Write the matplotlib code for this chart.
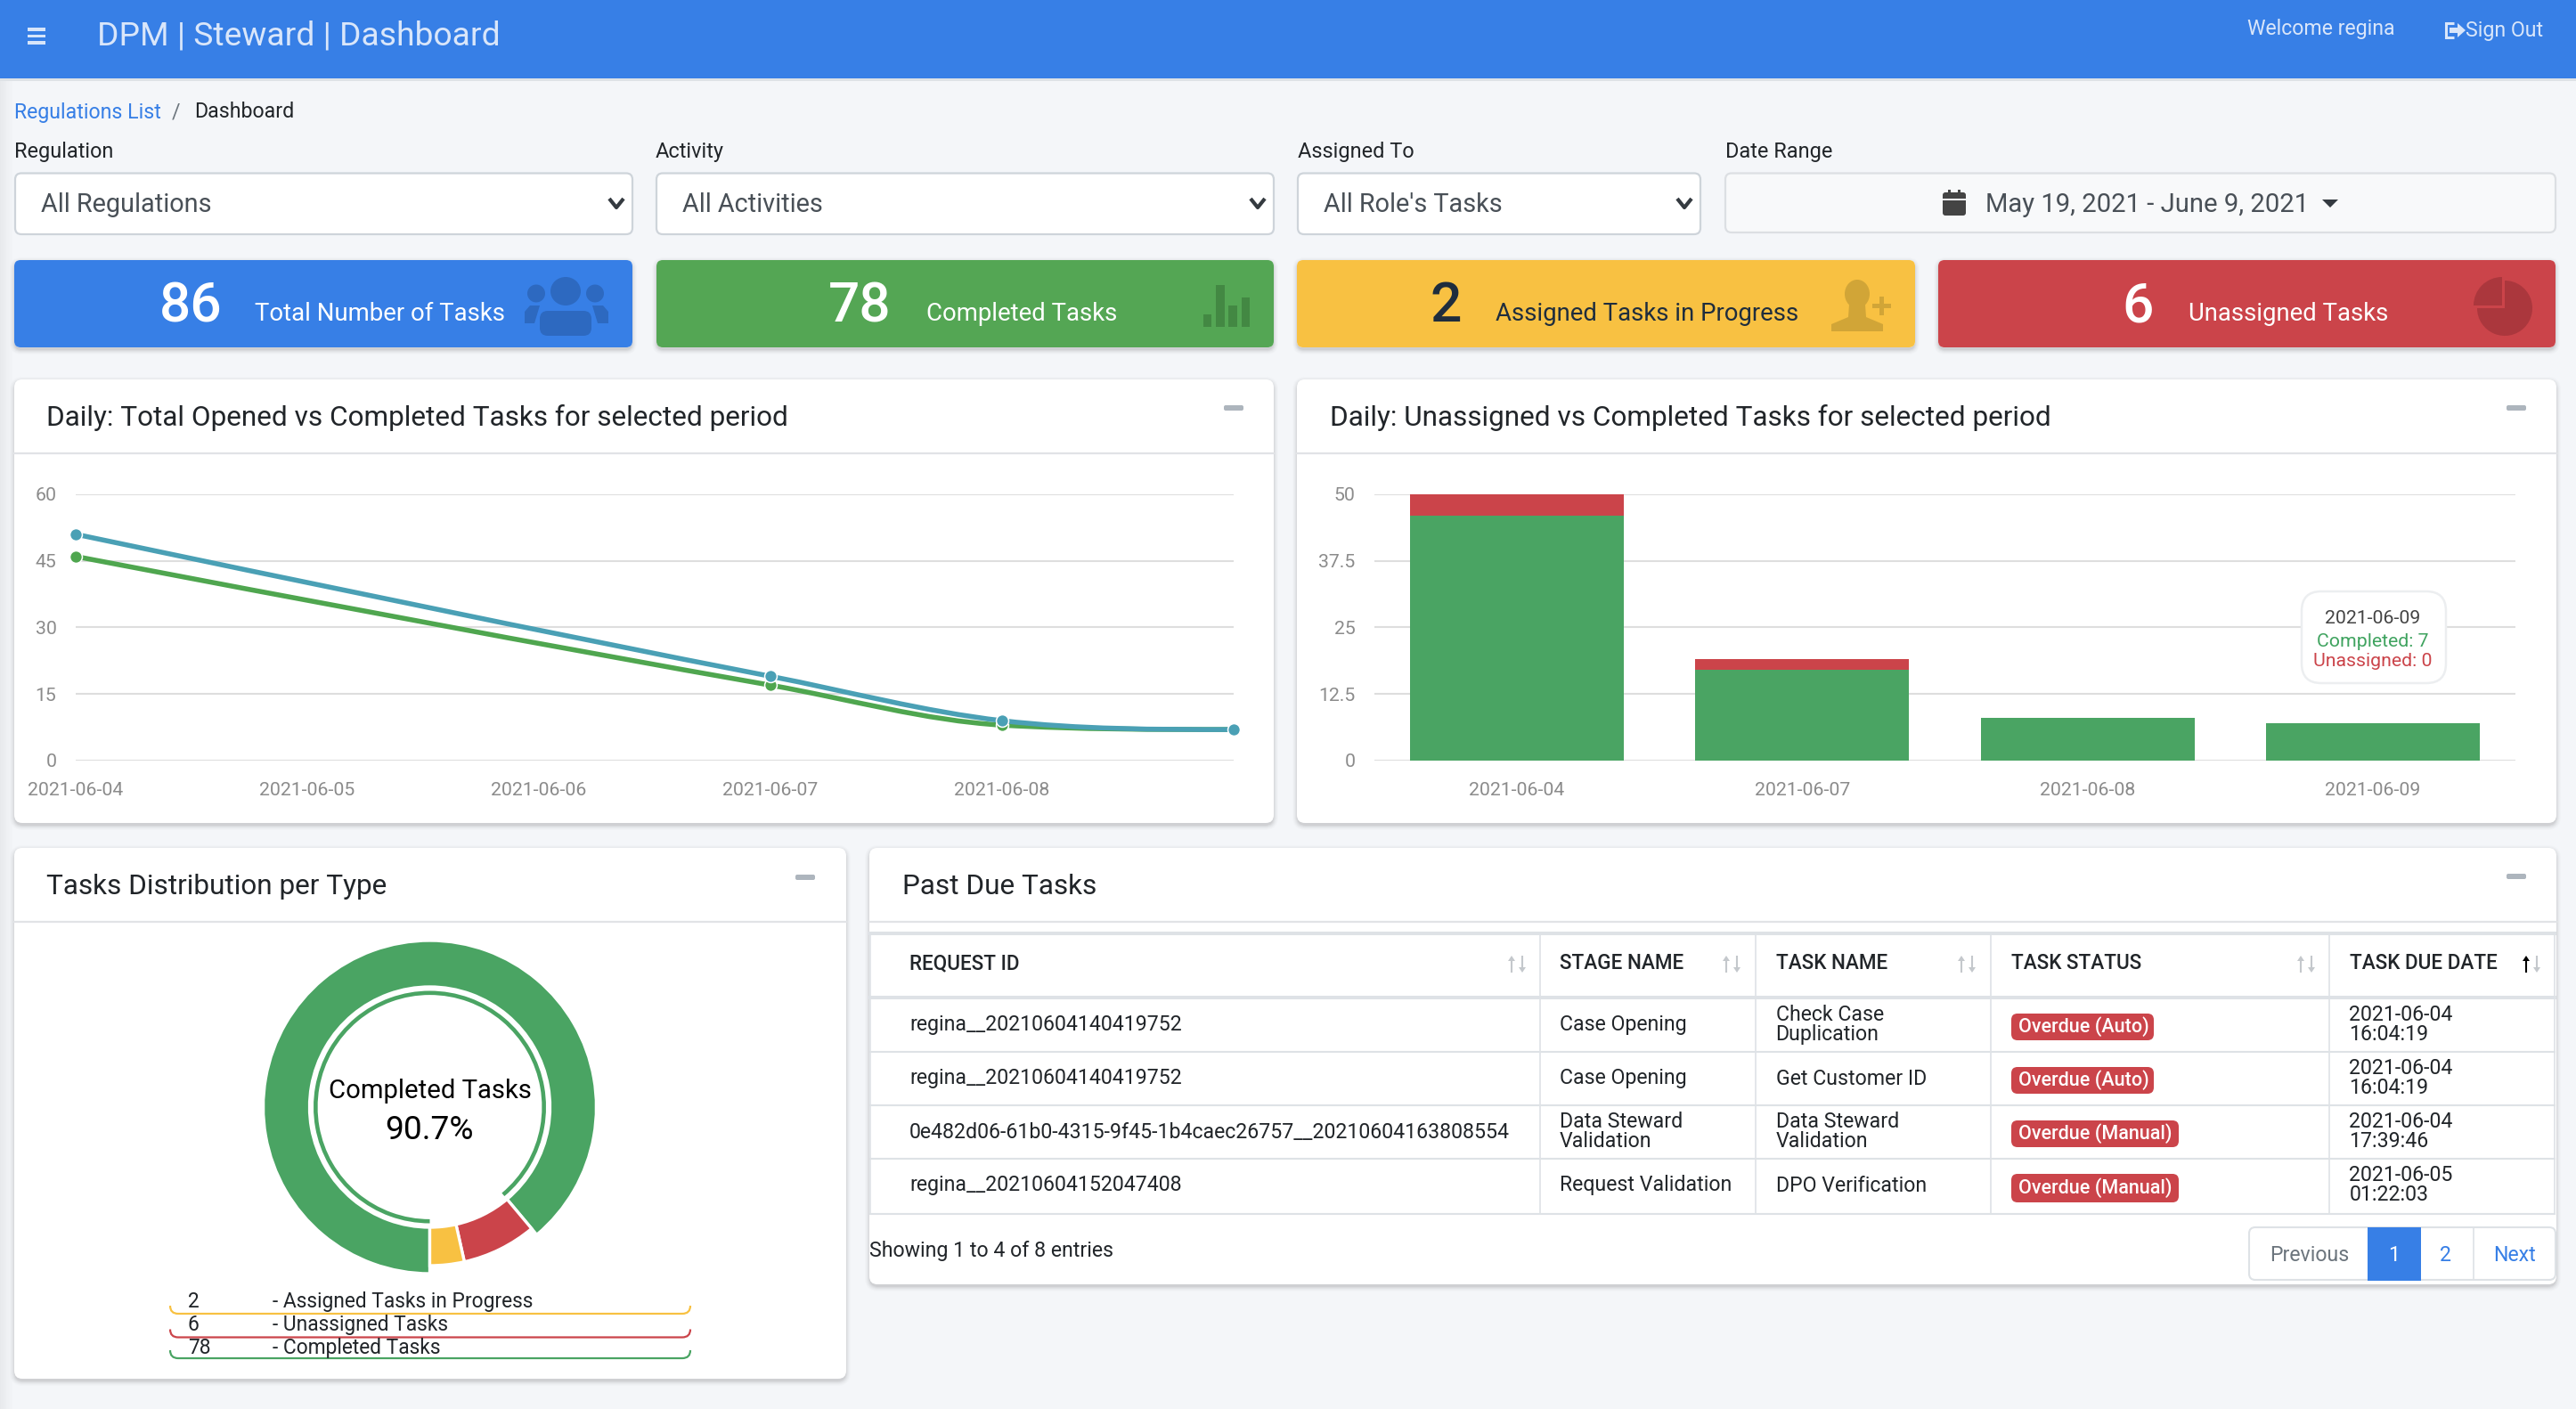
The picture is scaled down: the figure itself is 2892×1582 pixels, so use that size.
import numpy as np
import matplotlib
matplotlib.use("Agg")
import matplotlib.pyplot as plt
import matplotlib.dates as mdates
from matplotlib.patches import FancyBboxPatch, Rectangle, Circle, Ellipse, Wedge, Polygon, PathPatch
from matplotlib.path import Path
from matplotlib.textpath import TextPath
from matplotlib.font_manager import FontProperties
import datetime as dt

# ------------------------------------------------------------------ data
line_dates = ["2021-06-04", "2021-06-07", "2021-06-08", "2021-06-09"]
line_tick_dates = ["2021-06-04", "2021-06-05", "2021-06-06", "2021-06-07", "2021-06-08"]
line_yticks = [0, 15, 30, 45, 60]
opened_values = [51, 19, 9, 7]
completed_line_values = [46, 17, 8, 7]

bar_dates = ["2021-06-04", "2021-06-07", "2021-06-08", "2021-06-09"]
bar_yticks = [0, 12.5, 25, 37.5, 50]
bar_ytick_labels = ["0", "12.5", "25", "37.5", "50"]
completed_bar_values = [46, 17, 8, 7]
unassigned_bar_values = [4, 2, 0, 0]

stat_numbers = ["86", "78", "2", "6"]
stat_labels = ["Total Number of Tasks", "Completed Tasks", "Assigned Tasks in Progress", "Unassigned Tasks"]

type_counts = ["2", "6", "78"]
type_names = ["- Assigned Tasks in Progress", "- Unassigned Tasks", "- Completed Tasks"]
# ring shares (percent of the circle) as measured on the picture: completed, unassigned, assigned
ring_shares = [88.9, 7.6, 3.5]

table_headers = ["REQUEST ID", "STAGE NAME", "TASK NAME", "TASK STATUS", "TASK DUE DATE"]
request_ids = ["regina__20210604140419752", "regina__20210604140419752",
               "0e482d06-61b0-4315-9f45-1b4caec26757__20210604163808554", "regina__20210604152047408"]
stage_names = [["Case Opening"], ["Case Opening"], ["Data Steward", "Validation"], ["Request Validation"]]
task_names = [["Check Case", "Duplication"], ["Get Customer ID"], ["Data Steward", "Validation"], ["DPO Verification"]]
task_status = ["Overdue (Auto)", "Overdue (Auto)", "Overdue (Manual)", "Overdue (Manual)"]
due_dates = [["2021-06-04", "16:04:19"], ["2021-06-04", "16:04:19"], ["2021-06-04", "17:39:46"], ["2021-06-05", "01:22:03"]]

# ------------------------------------------------------------------ style
BG = "#f4f6f9"; BLUE = "#377fe6"; GREEN = "#54a654"; YELLOW = "#f8c142"; RED = "#cb444a"
BAR_GREEN = "#4aa463"; LINE_BLUE = "#4aa0b5"; LINE_GREEN = "#4fa64f"
INK = "#212529"; GRID = "#dedede"; TICK = "#8b8b8b"; BORDER = "#ced4da"; RULE = "#e1e3e6"
FONT = "Roboto"
W, H = 2892, 1582
TEXT_DY = 2

plt.rcParams["font.family"] = [FONT, "DejaVu Sans"]
fig = plt.figure(figsize=(W / 100, H / 100), dpi=100, facecolor=BG)


def fit(s, width, weight="normal"):
    fp = FontProperties(family=FONT, weight=weight)
    ext = TextPath((0, 0), s, size=100, prop=fp).get_extents()
    return 100 * width * 0.72 / ext.width


def px_axes(l, t, r, b, z=1):
    a = fig.add_axes([l / W, 1 - b / H, (r - l) / W, (b - t) / H], zorder=z)
    a.patch.set_alpha(0)
    return a


def canvas(z):
    a = fig.add_axes([0, 0, 1, 1], zorder=z)
    a.set_xlim(0, W); a.set_ylim(H, 0)
    a.set_xticks([]); a.set_yticks([])
    a.axis("off"); a.patch.set_alpha(0)
    return a


bg = canvas(0)
fg = canvas(5)


def rrect(a, x0, y0, x1, y1, r=8, fc="white", ec="none", lw=0, alpha=None, z=2):
    p = FancyBboxPatch((x0 + r, y0 + r), x1 - x0 - 2 * r, y1 - y0 - 2 * r,
                       boxstyle=f"round,pad={r},rounding_size={r}", fc=fc, ec=ec, lw=lw, alpha=alpha, zorder=z)
    a.add_patch(p)
    return p


def T(x, y, s, size, color=INK, ha="left", weight="normal", a=bg, z=6, family=None):
    return a.text(x, y + TEXT_DY, s, fontsize=size, color=color, ha=ha, va="center", weight=weight,
                  zorder=z, family=family or [FONT, "DejaVu Sans"])


def card(x0, y0, x1, y1, r=9):
    for i, al in zip(range(6, 0, -1), [.012, .016, .02, .026, .034, .045]):
        rrect(bg, x0 - i + 1, y0 - i + 3, x1 + i - 1, y1 + i + 2, r=r + i, fc="#000000", alpha=al, z=1)
    rrect(bg, x0, y0, x1, y1, r=r, fc="white", z=2)


def minus(x0, x1, y):
    rrect(bg, x0, y - 3, x1, y + 3, r=2, fc="#adb5bd", z=3)


def sort_arrow(x, up, color):
    """Small sort-direction icon."""
    tip, tail = (1073, 1092) if up else (1092, 1073)
    head = tip + (6 if up else -6)
    bg.plot([x, x], [head, tail], color=color, lw=1.5, zorder=6, solid_capstyle="butt")
    bg.add_patch(Polygon([(x - 4, head), (x + 4, head), (x, tip)], fc=color, lw=0, zorder=6))


# ------------------------------------------------------------------ sizes
S_HEAD = fit("DPM | Steward | Dashboard", 446)
S_WELCOME = fit("Welcome regina", 164)
S_CRUMB = fit("Regulations List", 162)
S_LABEL = fit("Regulation", 108)
S_SELECT = fit("All Regulations", 190)
S_DATE = fit("May 19, 2021 - June 9, 2021", 354)
S_NUM = fit("86", 65, "medium")
S_STAT = fit("Total Number of Tasks", 278)
S_TITLE = fit("Daily: Total Opened vs Completed Tasks for selected period", 830)
S_AXIS = fit("2021-06-04", 106)
S_TABLE = fit("regina__20210604140419752", 303)
S_TH = fit("REQUEST ID", 121, "medium")
S_DONUT = fit("Completed Tasks", 225)
S_PCT = fit("90.7%", 96)
S_LEG = fit("- Assigned Tasks in Progress", 292)
S_BADGE = fit("Overdue (Auto)", 144, "medium")

# ------------------------------------------------------------------ page chrome
for i, al in enumerate([.05, .045, .04, .035, .03, .025, .02, .016, .012, .008, .005]):
    bg.add_patch(Rectangle((i * 1.4, 88), 1.4, H - 88, fc="#000000", alpha=al, lw=0, zorder=1))
bg.add_patch(Rectangle((0, 0), W, 88, fc=BLUE, lw=0, zorder=3))
bg.add_patch(Rectangle((0, 88), W, 2.5, fc="#dee2e6", lw=0, zorder=3))
for y in (31, 38.5, 46):
    bg.add_patch(Rectangle((31, y), 20, 3.6, fc="#d7e5fa", lw=0, zorder=4))
T(109, 38, "DPM | Steward | Dashboard", S_HEAD, "#d9e6fa")
T(2523, 30, "Welcome regina", S_WELCOME, "#d9e6fa")
T(2768, 32, "Sign Out", S_WELCOME, "#d9e6fa")
bg.add_patch(PathPatch(Path([(2755, 26), (2746, 26), (2746, 42), (2755, 42)]), fc="none", ec="#d9e6fa", lw=2.2, zorder=6))
bg.add_patch(Polygon([(2750, 31), (2759, 31), (2759, 26), (2768, 34), (2759, 42), (2759, 37), (2750, 37)], fc="#d9e6fa", lw=0, zorder=6))

T(16, 124, "Regulations List", S_CRUMB, BLUE)
T(198, 124, "/", S_CRUMB, "#6c757d", ha="center")
T(218, 124, "Dashboard", S_CRUMB, INK)

for x, s in zip((16, 736, 1457, 1937), ("Regulation", "Activity", "Assigned To", "Date Range")):
    T(x, 168, s, S_LABEL, INK)

for (x0, x1), s in zip(((17, 710), (737, 1430), (1457, 1909)), ("All Regulations", "All Activities", "All Role's Tasks")):
    rrect(bg, x0, 194.5, x1, 263, r=7, fc="white", ec=BORDER, lw=1.6, z=3)
    T(x0 + 29, 228, s, S_SELECT, "#495057")
    xc = x1 - 18
    bg.plot([xc - 8, xc, xc + 8], [223, 233, 223], color="#343a40", lw=3, zorder=5, solid_capstyle="butt")

rrect(bg, 1937, 194.5, 2869, 261, r=7, fc="#f8f9fa", ec="#dcdfe3", lw=1.6, z=3)
T(2229, 228, "May 19, 2021 - June 9, 2021", S_DATE, "#495057")
rrect(bg, 2181, 216, 2207, 242, r=3, fc="#444444", z=5)
bg.add_patch(Rectangle((2181, 223), 26, 2, fc="#f8f9fa", lw=0, zorder=6))
for xp in (2187, 2198):
    bg.add_patch(Rectangle((xp, 213), 3, 6, fc="#444444", lw=0, zorder=6))
bg.add_patch(Polygon([(2607, 224), (2625, 224), (2616, 233)], fc="#343a40", lw=0, zorder=6))

# ------------------------------------------------------------------ stat cards
stat_geo = [(16, 710, BLUE, 179, 286, "white"), (737, 1430, GREEN, 930, 1040, "white"),
            (1456, 2150, YELLOW, 1605, 1679, "#1f2d3d"), (2176, 2869, RED, 2382, 2457, "white")]
for (x0, x1, col, xn, xl, tc), n, l in zip(stat_geo, stat_numbers, stat_labels):
    card(x0, 292, x1, 390, r=7)
    rrect(bg, x0, 292, x1, 390, r=7, fc=col, z=3)
    T(xn, 342, n, S_NUM, tc, weight="medium")
    T(xl, 350, l, S_STAT, tc)

# users icon
C = "#2d69c0"
bg.add_patch(Ellipse((635, 327), 34, 32, fc=C, lw=0, zorder=4))
bg.add_patch(Ellipse((602, 329.5), 20, 20, fc=C, lw=0, zorder=4))
bg.add_patch(Ellipse((668, 329.5), 20, 20, fc=C, lw=0, zorder=4))
rrect(bg, 606, 349, 664, 377, r=9, fc=C, z=4)
bg.add_patch(Polygon([(589, 363), (589, 350), (595, 343), (606, 343), (600, 363)], fc=C, lw=0, zorder=4))
bg.add_patch(Polygon([(683, 363), (683, 350), (677, 343), (665, 343), (671, 363)], fc=C, lw=0, zorder=4))
# bars icon
C = "#438843"
for (xa, xb), top in zip(((1351, 1360), (1365, 1375), (1379, 1389), (1394, 1403)), (353, 320, 343, 334)):
    bg.add_patch(Rectangle((xa, top), xb - xa, 367 - top, fc=C, lw=0, zorder=4))
# user-plus icon
C = "#d1a537"
bg.add_patch(Ellipse((2085, 330), 28, 32, fc=C, lw=0, zorder=4))
bg.add_patch(Polygon([(2076, 342), (2094, 342), (2095, 356), (2114, 364), (2114, 372), (2056, 372), (2056, 364), (2075, 356)],
                     fc=C, lw=0, zorder=4))
bg.add_patch(Rectangle((2102, 341), 21, 5, fc=C, lw=0, zorder=4))
bg.add_patch(Rectangle((2110, 333), 5, 21, fc=C, lw=0, zorder=4))
# pie icon
C = "#ab373d"
bg.add_patch(Wedge((2812, 346), 31, 270, 540, fc=C, lw=0, zorder=4))
bg.add_patch(Wedge((2809, 343), 32, 180, 270, fc=C, lw=0, zorder=4))

# ------------------------------------------------------------------ chart cards
card(16, 426, 1430, 924)
bg.plot([16, 1430], [509, 509], color=RULE, lw=1.6, zorder=3)
T(52, 467, "Daily: Total Opened vs Completed Tasks for selected period", S_TITLE)
minus(1374, 1396, 458)

card(1456, 426, 2870, 924)
bg.plot([1456, 2870], [509, 509], color=RULE, lw=1.6, zorder=3)
T(1493, 467, "Daily: Unassigned vs Completed Tasks for selected period", S_TITLE)
minus(2814, 2836, 458)


def to_num(dates):
    return mdates.date2num([dt.datetime.strptime(d, "%Y-%m-%d") for d in dates])


def monotone_path(xs, ys):
    """Monotone cubic curve through the data points, as Bezier segments."""
    xs, ys = np.asarray(xs, float), np.asarray(ys, float)
    h = np.diff(xs); s = np.diff(ys) / h
    m = np.zeros_like(ys)
    m[1:-1] = (s[:-1] * h[1:] + s[1:] * h[:-1]) / (h[:-1] + h[1:])
    m[1:-1] = np.sign(s[:-1]) * np.minimum.reduce([np.abs(m[1:-1]), 3 * np.abs(s[:-1]), 3 * np.abs(s[1:])]) * (s[:-1] * s[1:] > 0)
    m[0] = (3 * s[0] - m[1]) / 2; m[-1] = (3 * s[-1] - m[-2]) / 2
    verts = [(xs[0], ys[0])]; codes = [Path.MOVETO]
    for i in range(len(h)):
        verts += [(xs[i] + h[i] / 3, ys[i] + m[i] * h[i] / 3),
                  (xs[i + 1] - h[i] / 3, ys[i + 1] - m[i + 1] * h[i] / 3),
                  (xs[i + 1], ys[i + 1])]
        codes += [Path.CURVE4] * 3
    return Path(verts, codes)


def style_axis(a):
    for sp in a.spines.values():
        sp.set_visible(False)
    a.tick_params(length=0, labelsize=S_AXIS, colors=TICK)
    a.yaxis.grid(True, color=GRID, lw=1.5)
    a.set_axisbelow(True)


# line chart
ax1 = px_axes(85, 555, 1385, 854)
xn = to_num(line_dates)
ax1.set_xlim(xn[0], xn[-1]); ax1.set_ylim(0, 60)
style_axis(ax1)
ax1.set_xticks(to_num(line_tick_dates), line_tick_dates)
ax1.set_yticks(line_yticks)
ax1.tick_params(axis="x", pad=17.2)
ax1.tick_params(axis="y", pad=15.5)
for vals, col, z in ((completed_line_values, LINE_GREEN, 3), (opened_values, LINE_BLUE, 4)):
    ax1.add_patch(PathPatch(monotone_path(xn, vals), fc="none", ec=col, lw=4, zorder=z, clip_on=False, capstyle="round"))
    ax1.plot(xn, vals, ls="none", marker="o", ms=10, mfc=col, mec="white", mew=1.1, zorder=z, clip_on=False)

# stacked bars
ax2 = px_axes(1543, 555, 2824, 854)
pos = np.arange(len(bar_dates))
ax2.set_xlim(-0.5, 3.5); ax2.set_ylim(0, 50)
style_axis(ax2)
ax2.set_xticks(pos, bar_dates)
ax2.set_yticks(bar_yticks, bar_ytick_labels)
ax2.tick_params(axis="x", pad=17.2)
ax2.tick_params(axis="y", pad=15.5)
ax2.bar(pos, completed_bar_values, width=0.75, color=BAR_GREEN, zorder=3)
ax2.bar(pos, unassigned_bar_values, width=0.75, bottom=completed_bar_values, color=RED, zorder=3)

# tooltip
rrect(fg, 2584, 664, 2746, 767, r=22, fc="white", ec="#eceef0", lw=1.8, z=5)
T(2664, 692, bar_dates[3], S_AXIS, "#444444", ha="center", a=fg)
T(2664, 718, f"Completed: {completed_bar_values[3]}", S_AXIS, "#3fa35f", ha="center", a=fg)
T(2664, 741, f"Unassigned: {unassigned_bar_values[3]}", S_AXIS, RED, ha="center", a=fg)

# ------------------------------------------------------------------ donut card
card(16, 952, 950, 1548)
bg.plot([16, 950], [1035, 1035], color=RULE, lw=1.6, zorder=3)
T(52, 993, "Tasks Distribution per Type", S_TITLE)
minus(893, 915, 985)

ax3 = px_axes(282.5, 1043, 682.5, 1443)
ring_colors = [BAR_GREEN, RED, YELLOW]


def ring(radius, width, keep, edge):
    props = dict(width=width, edgecolor="white" if edge else "none", linewidth=edge)
    wedges, _ = ax3.pie(ring_shares, radius=radius, startangle=-90, counterclock=False,
                        colors=ring_colors, wedgeprops=props)
    for i, w_ in enumerate(wedges):
        w_.set_visible(i in keep)


ring(187, 52, {0}, 2.4)
ring(178, 43, {1, 2}, 2.4)
ring(130.5, 4.6, {0}, 0)
ax3.set_xlim(-200, 200); ax3.set_ylim(-200, 200)
T(482.5, 1223, "Completed Tasks", S_DONUT, "#000000", ha="center")
T(482.5, 1267, "90.7%", S_PCT, "#000000", ha="center")

for y, c, n, col, ln in zip((1459.5, 1485.5, 1511.5), type_counts, type_names, (YELLOW, RED, BAR_GREEN), (1475, 1501.5, 1525)):
    T(211, y, c, S_LEG)
    T(305.5, y, n, S_LEG)
    r = 9
    verts = [(191, ln - r), (191, ln), (191 + r, ln), (775 - r, ln), (775, ln), (775, ln - r)]
    codes = [Path.MOVETO, Path.CURVE3, Path.CURVE3, Path.LINETO, Path.CURVE3, Path.CURVE3]
    bg.add_patch(PathPatch(Path(verts, codes), fc="none", ec=col, lw=1.6, zorder=4))

# ------------------------------------------------------------------ table card
card(976, 952, 2870, 1442)
bg.plot([976, 2870], [1035, 1035], color=RULE, lw=1.6, zorder=3)
T(1013, 993, "Past Due Tasks", S_TITLE)
minus(2814, 2836, 984)

bg.plot([977, 2868], [1048, 1048], color="#dee2e6", lw=2.9, zorder=3)
bg.plot([977, 2868], [1120, 1120], color="#dee2e6", lw=2.9, zorder=3)
for y in (1181, 1241, 1301, 1363):
    bg.plot([977, 2868], [y, y], color="#dee2e6", lw=1.5, zorder=3)
for x in (977, 1729, 1971, 2235, 2615, 2868):
    bg.plot([x, x], [1048, 1363], color="#dee2e6", lw=1.2, zorder=3)

col_x = [1021, 1751, 1993.5, 2258, 2637.5]
arrow_x = [1703, 1944, 2208, 2589, 2842]
for i, (x, ax_, h) in enumerate(zip(col_x, arrow_x, table_headers)):
    T(x, 1080, h, S_TH, weight="medium")
    sort_arrow(ax_ - 6, True, "#000000" if i == 4 else "#c4c8cc")
    sort_arrow(ax_ + 6, False, "#c4c8cc")

row_mid = [1149, 1209, 1269, 1329]
badge_y = [(1138, 1168), (1198, 1228), (1258, 1288), (1318, 1350)]


def cell(x, ym, lines):
    if len(lines) == 1:
        T(x, ym, lines[0], S_TABLE)
    else:
        T(x, ym - 11.5, lines[0], S_TABLE)
        T(x, ym + 10.5, lines[1], S_TABLE)


for i, ym in enumerate(row_mid):
    T(col_x[0], ym, request_ids[i], S_TABLE)
    cell(col_x[1], ym, stage_names[i])
    cell(col_x[2], ym, task_names[i])
    cell(col_x[4], ym, due_dates[i])
    y0, y1 = badge_y[i]
    x1 = 2418 if "Auto" in task_status[i] else 2446
    rrect(bg, 2258, y0, x1, y1, r=7, fc=RED, z=3)
    T(2266, (y0 + y1) / 2 - 2, task_status[i], S_BADGE, "white", weight="medium")

T(976, 1403, "Showing 1 to 4 of 8 entries", S_TABLE)
rrect(bg, 2525, 1378, 2869, 1437, r=7, fc="white", ec="#dee2e6", lw=1.5, z=3)
bg.add_patch(Rectangle((2658, 1378), 60, 60, fc=BLUE, lw=0, zorder=4))
bg.plot([2777, 2777], [1378, 1437], color="#dee2e6", lw=1.2, zorder=4)
T(2593, 1408, "Previous", S_TABLE, "#6c757d", ha="center")
T(2688, 1408, "1", S_TABLE, "white", ha="center")
T(2746, 1408, "2", S_TABLE, BLUE, ha="center")
T(2823, 1408, "Next", S_TABLE, BLUE, ha="center")

fig.savefig("out.png", dpi=100, facecolor=BG)
